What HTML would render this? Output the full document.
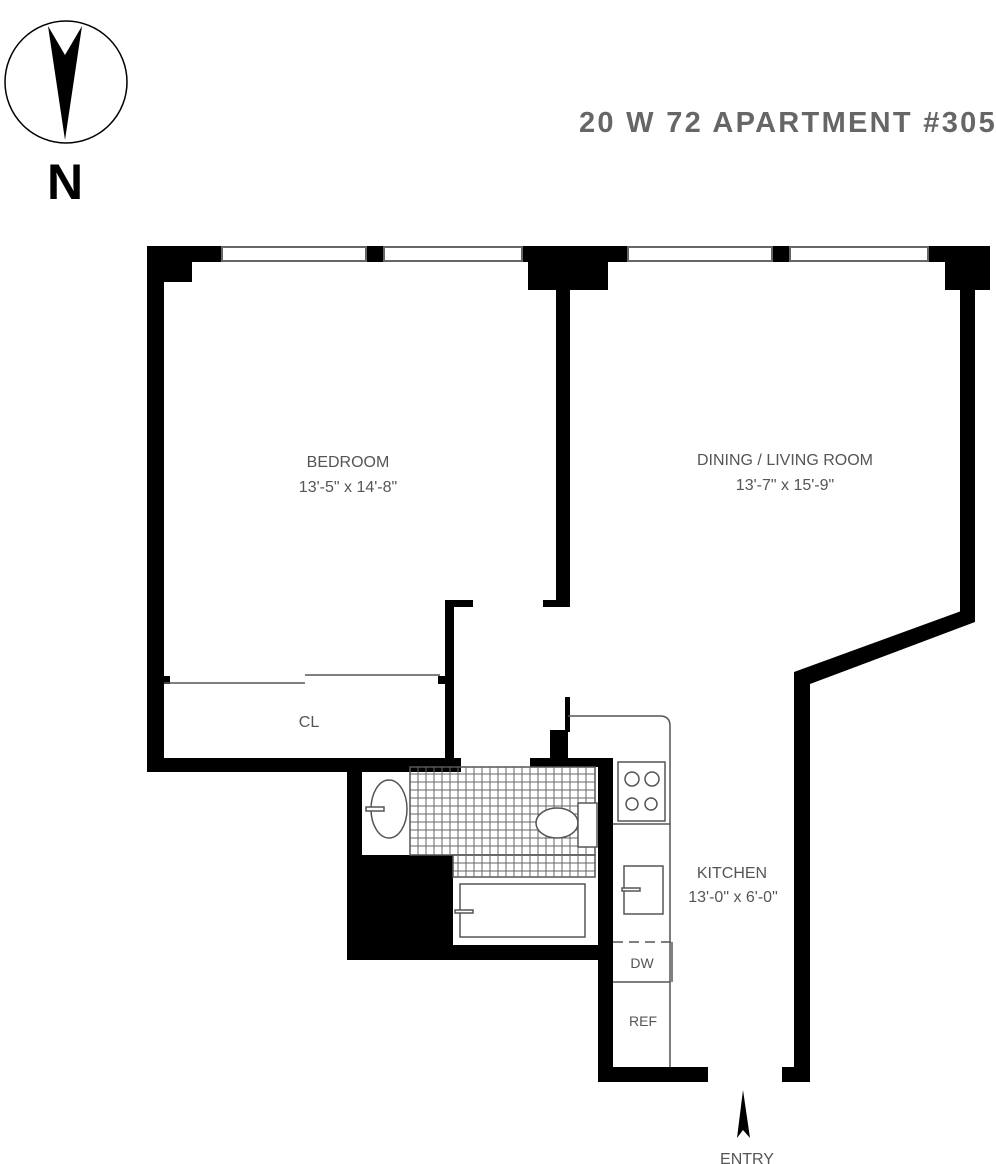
<!DOCTYPE html>
<html><head><meta charset="utf-8"><style>
html,body{margin:0;padding:0;background:#fff;width:996px;height:1164px;overflow:hidden}
svg{display:block}
text{font-family:"Liberation Sans",sans-serif;fill:#555}
</style></head><body>
<svg width="996" height="1164" viewBox="0 0 996 1164">
<!-- compass -->
<circle cx="66" cy="82" r="61" fill="none" stroke="#000" stroke-width="1.5"/>
<polygon points="48,26 65,55 82,26 65,140" fill="#000"/>
<text x="65" y="199" text-anchor="middle" style="font-weight:bold;font-size:50px;fill:#000">N</text>
<text x="997" y="132" text-anchor="end" style="font-weight:bold;font-size:29px;letter-spacing:2.3px;fill:#666">20 W 72 APARTMENT #305</text>

<g fill="#000">
<rect x="147" y="246" width="75" height="16"/>
<rect x="147" y="246" width="45" height="36"/>
<rect x="366" y="246" width="18" height="16"/>
<rect x="522" y="246" width="106" height="16"/>
<rect x="528" y="246" width="80" height="44"/>
<rect x="772" y="246" width="18" height="16"/>
<rect x="928" y="246" width="62" height="16"/>
<rect x="945" y="246" width="45" height="44"/>
<rect x="147" y="246" width="17" height="526"/>
<rect x="147" y="758" width="314" height="14"/>
<rect x="556" y="290" width="14" height="316"/>
<rect x="543" y="600" width="27" height="7"/>
<rect x="445" y="600" width="9" height="160"/>
<rect x="445" y="600" width="28" height="7"/>
<rect x="347" y="758" width="15" height="202"/>
<rect x="347" y="855" width="106" height="105"/>
<rect x="347" y="945" width="266" height="15"/>
<rect x="530" y="758" width="83" height="9"/>
<rect x="550" y="730" width="18" height="30"/>
<rect x="565" y="697" width="5" height="35"/>
<rect x="598" y="758" width="15" height="324"/>
<rect x="598" y="1067" width="110" height="15"/>
<rect x="782" y="1067" width="28" height="15"/>
<rect x="794" y="672" width="16" height="410"/>
<polygon points="794,672 975,606 975,622 810,684 794,684"/>
<rect x="960" y="262" width="15" height="358"/>
<rect x="162" y="676" width="8" height="8"/>
<rect x="438" y="676" width="8" height="8"/>
<polygon points="743,1090 737,1138 743,1130 750,1138"/>
</g>

<g fill="#fff" stroke="#666" stroke-width="2">
<rect x="222" y="247" width="144" height="14"/>
<rect x="384" y="247" width="138" height="14"/>
<rect x="628" y="247" width="144" height="14"/>
<rect x="790" y="247" width="138" height="14"/>
</g>

<g fill="none" stroke="#555" stroke-width="1.5">
<line x1="164" y1="683" x2="305" y2="683"/>
<line x1="305" y1="675" x2="440" y2="675"/>
<ellipse cx="389" cy="809" rx="18" ry="29"/>
<rect x="410" y="767" width="185" height="88"/>
<rect x="453" y="855" width="142" height="22"/>
<rect x="460" y="884" width="125" height="53"/>
<path d="M568,716 H660 Q670,716 670,726 V1067"/>
<line x1="613" y1="824" x2="670" y2="824"/>
<rect x="618" y="762" width="47" height="59"/>
<circle cx="632" cy="779" r="7"/><circle cx="652" cy="779" r="7"/>
<circle cx="632" cy="804" r="6"/><circle cx="651" cy="804" r="6"/>
<rect x="624" y="866" width="39" height="48"/>
<line x1="613" y1="942" x2="672" y2="942" stroke-dasharray="10,6"/>
<line x1="672" y1="942" x2="672" y2="982"/>
<line x1="613" y1="982" x2="670" y2="982"/>
</g>
<g stroke="#666" stroke-width="1">
<path d="M410,774 H595 M410,782 H595 M410,790 H595 M410,798 H595 M410,806 H595 M410,814 H595 M410,822 H595 M410,830 H595 M410,838 H595 M410,846 H595 M453,863 H595 M453,871 H595"/>
<path d="M418,767V855 M426,767V855 M434,767V855 M442,767V855 M450,767V855 M458,767V877 M466,767V877 M474,767V877 M482,767V877 M490,767V877 M498,767V877 M506,767V877 M514,767V877 M522,767V877 M530,767V877 M538,767V877 M546,767V877 M554,767V877 M562,767V877 M570,767V877 M578,767V877 M586,767V877"/>
</g>
<g fill="#fff" stroke="#555" stroke-width="1.5">
<ellipse cx="557" cy="823" rx="21" ry="15"/>
<rect x="578" y="803" width="19" height="44"/>
<rect x="366" y="807" width="18" height="4"/>
<rect x="455" y="910" width="18" height="3"/>
<rect x="622" y="888" width="18" height="3"/>
</g>

<text x="348" y="467" text-anchor="middle" font-size="16">BEDROOM</text>
<text x="348" y="492" text-anchor="middle" font-size="16">13'-5" x 14'-8"</text>
<text x="785" y="465" text-anchor="middle" font-size="16">DINING / LIVING ROOM</text>
<text x="785" y="490" text-anchor="middle" font-size="16">13'-7" x 15'-9"</text>
<text x="309" y="727" text-anchor="middle" font-size="16">CL</text>
<text x="732" y="878" text-anchor="middle" font-size="16">KITCHEN</text>
<text x="733" y="902" text-anchor="middle" font-size="16">13'-0" x 6'-0"</text>
<text x="642" y="968" text-anchor="middle" font-size="14">DW</text>
<text x="643" y="1026" text-anchor="middle" font-size="14">REF</text>
<text x="747" y="1164" text-anchor="middle" font-size="16">ENTRY</text>
</svg>
</body></html>
